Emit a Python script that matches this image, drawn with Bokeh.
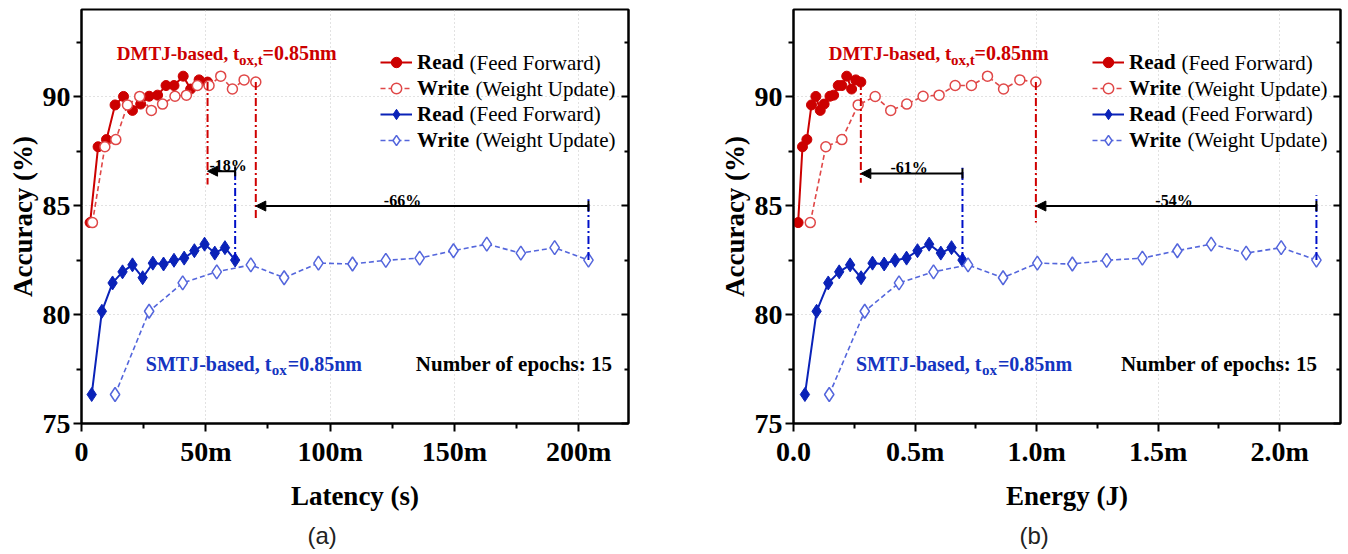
from bokeh.plotting import figure
from bokeh.layouts import row
from bokeh.models import (Range1d, FixedTicker, LinearAxis, Label, Arrow, NormalHead,
                          TeeHead, Legend, LegendItem, Title)
from bokeh.embed import file_html
from bokeh.resources import INLINE

# ---------------- data (accuracy per epoch, 15 epochs) ----------------
dmtj_acc = [84.22, 87.70, 88.03, 89.62, 90.01, 89.37, 89.66, 90.02, 90.07,
            90.51, 90.51, 90.94, 90.35, 90.77, 90.67]
smtj_acc = [76.33, 80.15, 81.45, 81.96, 82.28, 81.69, 82.36, 82.32, 82.49,
            82.59, 82.93, 83.23, 82.82, 83.07, 82.50]

# cumulative latency (ms)
lat_dmtj_read = [3.46, 6.67, 10.05, 13.5, 16.9, 20.5, 23.8, 27.2, 30.6, 34.0,
                 37.2, 40.9, 43.9, 47.3, 50.7]
lat_dmtj_write = [4.4, 9.4, 13.8, 18.5, 23.4, 28.1, 32.6, 37.6, 42.2, 46.6,
                  51.3, 56.0, 60.7, 65.4, 70.1]
lat_smtj_read = [4.1, 8.2, 12.5, 16.5, 20.5, 24.6, 28.7, 33.0, 37.2, 41.3,
                 45.4, 49.5, 53.6, 57.7, 61.8]
lat_smtj_write = [13.5, 27.2, 40.7, 54.4, 68.1, 81.5, 95.3, 109.0, 122.4, 136.0,
                  149.6, 163.0, 176.7, 190.3, 203.9]

# cumulative energy (mJ)
en_dmtj_read = [0.019, 0.037, 0.055, 0.074, 0.092, 0.110, 0.126, 0.150, 0.165,
                0.184, 0.199, 0.219, 0.239, 0.256, 0.277]
en_dmtj_write = [0.069, 0.133, 0.199, 0.266, 0.336, 0.400, 0.466, 0.533, 0.599,
                 0.665, 0.732, 0.798, 0.864, 0.931, 0.997]
en_smtj_read = [0.047, 0.095, 0.143, 0.188, 0.233, 0.278, 0.325, 0.373, 0.418,
                0.465, 0.510, 0.558, 0.606, 0.650, 0.695]
en_smtj_write = [0.147, 0.293, 0.434, 0.576, 0.718, 0.862, 1.003, 1.147, 1.288,
                 1.435, 1.579, 1.718, 1.862, 2.006, 2.151]

# ticks
y_ticks = [75, 80, 85, 90]
y_minor = [77.5, 82.5, 87.5, 92.5]
lat_ticks = [0, 50, 100, 150, 200]
lat_tick_labels = ["0", "50m", "100m", "150m", "200m"]
lat_minor = [25, 75, 125, 175]
en_ticks = [0, 0.5, 1.0, 1.5, 2.0]
en_tick_labels = ["0.0", "0.5m", "1.0m", "1.5m", "2.0m"]
en_minor = [0.25, 0.75, 1.25, 1.75]

# annotation values
lat_red_stop = [85.97, 84.37]
lat_blue_stop = [86.74, 85.29]
lat_arrow_y = [86.58, 84.98]
lat_pct_text = ["-18%", "-66%"]
lat_pct_x = [59.0, 129.1]
en_red_stop = [86.05, 84.22]
en_blue_stop = [86.74, 85.47]
en_arrow_y = [86.47, 84.98]
en_pct_text = ["-61%", "-54%"]
en_pct_x = [0.4755, 1.565]

SERIF = "Liberation Serif"
SANS = "Liberation Sans"
RED = "#CC0000"
RED_W = "#E04848"
BLUE = "#0A22B8"
BLUE_W = "#5466DC"
RED_LINE = "#D00000"
BLUE_LINE = "#0010C8"
BLUE_TXT = "#1434C0"

Y0, Y1 = 75, 94
BL, BT = 81, 9
FRAME_W = 547
FRAME_H = 416
HEIGHT = 554
BB = HEIGHT - BT - FRAME_H


def make(width, x_end, ticks, tick_labels, minor, xlabel, panel_label,
         rd, wd, rs, ws, red_stop, blue_stop, arrow_y, pct_text, pct_x,
         smtj_x, epochs_x):
    border_right = width - BL - FRAME_W
    p = figure(width=width, height=HEIGHT, x_range=Range1d(0, x_end),
               y_range=Range1d(Y0, Y1), output_backend="svg", toolbar_location=None,
               min_border_left=BL, min_border_right=border_right,
               min_border_top=BT, min_border_bottom=BB)

    def fx(px):
        return px * x_end / FRAME_W

    def fy(py):
        return Y1 - py * (Y1 - Y0) / FRAME_H

    p.outline_line_color = "black"
    p.outline_line_width = 2
    p.background_fill_color = "white"

    p.xaxis.ticker = FixedTicker(ticks=ticks, minor_ticks=minor)
    p.xaxis.major_label_overrides = dict(zip(ticks, tick_labels))
    p.yaxis.ticker = FixedTicker(ticks=y_ticks, minor_ticks=y_minor)
    p.xaxis.axis_label = xlabel
    p.yaxis.axis_label = "Accuracy (%)"
    for ax in (p.xaxis[0], p.yaxis[0]):
        ax.axis_line_width = 2
        ax.axis_line_color = "black"
        ax.major_tick_line_width = 2
        ax.minor_tick_line_width = 2
        ax.major_tick_out = 8
        ax.major_tick_in = 0
        ax.minor_tick_out = 5
        ax.minor_tick_in = 0
        ax.major_label_text_font = SERIF
        ax.major_label_text_font_size = "28px"
        ax.major_label_text_font_style = "bold"
        ax.major_label_text_color = "black"
        ax.axis_label_text_font = SERIF
        ax.axis_label_text_font_size = "27px"
        ax.axis_label_text_font_style = "bold"
        ax.axis_label_text_color = "black"
    p.xaxis.major_label_standoff = 4
    p.yaxis.major_label_standoff = 3
    p.xaxis.axis_label_standoff = 11
    p.yaxis.axis_label_standoff = 2

    ra = LinearAxis(ticker=FixedTicker(ticks=y_ticks, minor_ticks=y_minor),
                    major_tick_in=7, major_tick_out=0, minor_tick_in=4, minor_tick_out=0,
                    major_label_overrides={t: "" for t in y_ticks},
                    major_label_text_font_size="10px", major_label_standoff=0,
                    axis_line_width=2, major_tick_line_width=2, minor_tick_line_width=2)
    p.add_layout(ra, "right")

    for g in (p.xgrid[0], p.ygrid[0]):
        g.grid_line_color = "#C4C4C4"
        g.grid_line_dash = "1 3"
        g.grid_line_width = 1
    p.xgrid.ticker = FixedTicker(ticks=ticks)

    # series
    l1 = p.line(rd, dmtj_acc, line_color=RED, line_width=2)
    s1 = p.scatter(rd, dmtj_acc, marker="circle", size=10, fill_color=RED,
                   line_color=RED, line_width=1)
    l2 = p.line(wd, dmtj_acc, line_color=RED_W, line_width=1.6, line_dash="5 3")
    s2 = p.scatter(wd, dmtj_acc, marker="circle", size=10, fill_color="white",
                   line_color=RED_W, line_width=1.5)
    l3 = p.line(rs, smtj_acc, line_color=BLUE, line_width=2)
    s3 = p.scatter(rs, smtj_acc, marker="diamond", size=14,
                   fill_color=BLUE, line_color=BLUE, line_width=1)
    l4 = p.line(ws, smtj_acc, line_color=BLUE_W, line_width=1.6, line_dash="5 3")
    s4 = p.scatter(ws, smtj_acc, marker="diamond", size=14,
                   fill_color="white", line_color=BLUE_W, line_width=1.5)

    # vertical dash-dot markers at the last epoch
    p.segment(x0=[rd[-1], wd[-1]], y0=[dmtj_acc[-1]] * 2, x1=[rd[-1], wd[-1]],
              y1=red_stop, line_color=RED_LINE, line_width=2, line_dash="8 3 2 3")
    p.segment(x0=[rs[-1], ws[-1]], y0=[smtj_acc[-1]] * 2, x1=[rs[-1], ws[-1]],
              y1=blue_stop, line_color=BLUE_LINE, line_width=2, line_dash="8 3 2 3")

    # arrows
    pairs = [(rs[-1], rd[-1]), (ws[-1], wd[-1])]
    for i, (xs, xe) in enumerate(pairs):
        p.add_layout(Arrow(x_start=xs, y_start=arrow_y[i], x_end=xe, y_end=arrow_y[i],
                           line_color="black", line_width=2,
                           end=NormalHead(size=10, fill_color="black", line_color="black",
                                          line_width=1),
                           start=TeeHead(size=10, line_color="black", line_width=2)))
        p.add_layout(Label(x=pct_x[i], y=arrow_y[i], y_offset=6, text=pct_text[i],
                           text_align="center", text_baseline="alphabetic",
                           text_font=SERIF, text_font_size="16px",
                           text_font_style="bold", text_color="black"))

    # legend
    legend = Legend(items=[LegendItem(label="Read", renderers=[l1, s1]),
                           LegendItem(label="Write", renderers=[l2, s2]),
                           LegendItem(label="Read", renderers=[l3, s3]),
                           LegendItem(label="Write", renderers=[l4, s4])],
                    location=(299, FRAME_H - 146),
                    glyph_width=32, glyph_height=26, label_height=26, spacing=0,
                    label_standoff=5, padding=0, margin=0,
                    label_text_font=SERIF, label_text_font_size="21px",
                    label_text_font_style="bold", label_text_color="black",
                    border_line_alpha=0, background_fill_alpha=0)
    p.add_layout(legend)
    paren = ["(Feed Forward)", "(Weight Update)", "(Feed Forward)", "(Weight Update)"]
    paren_x = [388, 394, 388, 394]
    for i in range(4):
        p.add_layout(Label(x=fx(paren_x[i]), y=fy(53.5 + 26 * i), text=paren[i],
                           text_align="left", text_baseline="middle",
                           text_font=SERIF, text_font_size="21px",
                           text_color="black"))

    def txt(px, py, text, size, color, bold=True):
        p.add_layout(Label(x=fx(px), y=fy(py), text=text, text_align="left",
                           text_baseline="alphabetic", text_font=SERIF,
                           text_font_size=size, text_color=color,
                           text_font_style="bold" if bold else "normal"))

    # DMTJ label
    txt(35.3, 44, "DMTJ-based, t", "19px", RED)
    txt(157.5, 50.5, "ox,t", "15px", RED)
    txt(181, 44, "=0.85nm", "20px", RED)
    # SMTJ label
    txt(smtj_x, 356, "SMTJ-based, t", "20px", BLUE_TXT)
    txt(smtj_x + 126, 362.5, "ox", "15px", BLUE_TXT)
    txt(smtj_x + 142, 356, "=0.85nm", "20px", BLUE_TXT)
    # epochs
    txt(epochs_x, 356, "Number of epochs: 15", "21px", "black")

    p.add_layout(Title(text=panel_label, align="left", offset=226, standoff=12,
                       text_font=SANS, text_font_size="24px", text_font_style="normal",
                       text_color="#222222"), "below")
    return p


p1 = make(712, 220, lat_ticks, lat_tick_labels, lat_minor, "Latency (s)", "(a)",
          lat_dmtj_read, lat_dmtj_write, lat_smtj_read, lat_smtj_write,
          lat_red_stop, lat_blue_stop, lat_arrow_y, lat_pct_text, lat_pct_x,
          64.3, 334.3)
p2 = make(634, 2.25, en_ticks, en_tick_labels, en_minor, "Energy (J)", "(b)",
          en_dmtj_read, en_dmtj_write, en_smtj_read, en_smtj_write,
          en_red_stop, en_blue_stop, en_arrow_y, en_pct_text, en_pct_x,
          62.4, 327.4)

layout = row(p1, p2)
open("out.html", "w").write(file_html(layout, INLINE))
